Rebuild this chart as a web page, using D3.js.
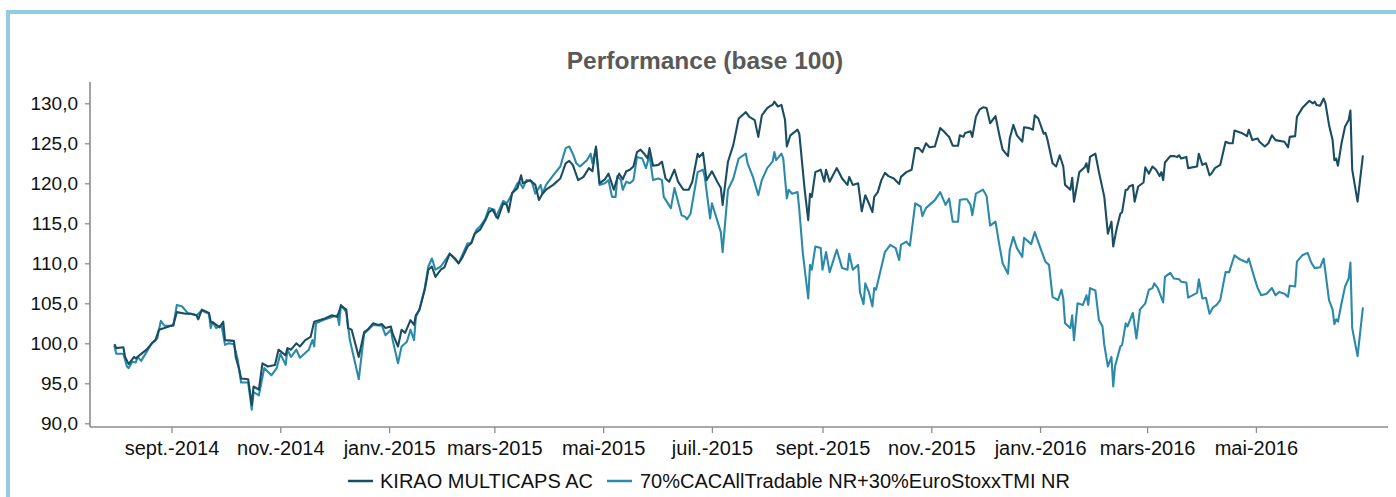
<!DOCTYPE html>
<html><head><meta charset="utf-8">
<script src="https://cdn.jsdelivr.net/npm/d3@7"></script>
<style>
html,body{margin:0;padding:0;background:#fff;}
svg{display:block;font-family:"Liberation Sans",Arial,sans-serif;}
</style></head><body>
<svg id="chart" width="1396" height="497"></svg>
<script>
const titleText = "Performance (base 100)";
const seriesNames = ["KIRAO MULTICAPS AC", "70%CACAllTradable NR+30%EuroStoxxTMI NR"];
const seriesColors = ["#1b4d62", "#2b8aaa"];
const yTicks = [90, 95, 100, 105, 110, 115, 120, 125, 130];
const xTickDates = ["2014-09-01","2014-11-01","2015-01-01","2015-03-01","2015-05-01","2015-07-01","2015-09-01","2015-11-01","2016-01-01","2016-03-01","2016-05-01"];
const xTickLabels = ["sept.-2014","nov.-2014","janv.-2015","mars-2015","mai-2015","juil.-2015","sept.-2015","nov.-2015","janv.-2016","mars-2016","mai-2016"];

const kiraoDates = ["2014-07-31","2014-08-01","2014-08-05","2014-08-06","2014-08-08","2014-08-11","2014-08-12","2014-08-14","2014-08-18","2014-08-21","2014-08-23","2014-08-25","2014-08-28","2014-09-02","2014-09-04","2014-09-09","2014-09-12","2014-09-15","2014-09-16","2014-09-18","2014-09-22","2014-09-23","2014-09-25","2014-09-28","2014-09-30","2014-10-01","2014-10-06","2014-10-07","2014-10-09","2014-10-10","2014-10-14","2014-10-16","2014-10-17","2014-10-20","2014-10-22","2014-10-25","2014-10-29","2014-10-31","2014-11-04","2014-11-05","2014-11-07","2014-11-10","2014-11-12","2014-11-15","2014-11-18","2014-11-20","2014-11-26","2014-11-30","2014-12-03","2014-12-05","2014-12-08","2014-12-09","2014-12-11","2014-12-15","2014-12-18","2014-12-20","2014-12-23","2014-12-26","2014-12-28","2014-12-30","2015-01-02","2015-01-03","2015-01-06","2015-01-08","2015-01-10","2015-01-13","2015-01-15","2015-01-16","2015-01-18","2015-01-21","2015-01-23","2015-01-25","2015-01-27","2015-01-30","2015-02-01","2015-02-04","2015-02-07","2015-02-09","2015-02-11","2015-02-14","2015-02-16","2015-02-18","2015-02-21","2015-02-24","2015-02-26","2015-02-28","2015-03-02","2015-03-03","2015-03-06","2015-03-08","2015-03-09","2015-03-11","2015-03-14","2015-03-16","2015-03-17","2015-03-19","2015-03-21","2015-03-24","2015-03-26","2015-03-28","2015-03-30","2015-04-03","2015-04-07","2015-04-10","2015-04-12","2015-04-14","2015-04-17","2015-04-20","2015-04-23","2015-04-25","2015-04-27","2015-04-29","2015-05-02","2015-05-04","2015-05-07","2015-05-09","2015-05-10","2015-05-12","2015-05-14","2015-05-16","2015-05-18","2015-05-20","2015-05-22","2015-05-24","2015-05-26","2015-05-27","2015-05-29","2015-06-01","2015-06-03","2015-06-05","2015-06-07","2015-06-10","2015-06-12","2015-06-15","2015-06-18","2015-06-20","2015-06-23","2015-06-24","2015-06-26","2015-06-28","2015-07-01","2015-07-04","2015-07-06","2015-07-07","2015-07-10","2015-07-13","2015-07-16","2015-07-19","2015-07-20","2015-07-22","2015-07-25","2015-07-27","2015-07-29","2015-08-01","2015-08-03","2015-08-04","2015-08-05","2015-08-07","2015-08-09","2015-08-11","2015-08-12","2015-08-14","2015-08-18","2015-08-19","2015-08-22","2015-08-24","2015-08-25","2015-08-26","2015-08-28","2015-08-31","2015-09-02","2015-09-03","2015-09-05","2015-09-09","2015-09-12","2015-09-15","2015-09-16","2015-09-18","2015-09-21","2015-09-23","2015-09-25","2015-09-27","2015-09-29","2015-09-30","2015-10-02","2015-10-04","2015-10-06","2015-10-08","2015-10-11","2015-10-14","2015-10-15","2015-10-18","2015-10-21","2015-10-23","2015-10-25","2015-10-27","2015-10-29","2015-10-31","2015-11-03","2015-11-06","2015-11-08","2015-11-10","2015-11-11","2015-11-13","2015-11-16","2015-11-17","2015-11-19","2015-11-20","2015-11-23","2015-11-24","2015-11-26","2015-11-28","2015-11-30","2015-12-02","2015-12-04","2015-12-06","2015-12-07","2015-12-09","2015-12-11","2015-12-14","2015-12-15","2015-12-17","2015-12-19","2015-12-22","2015-12-23","2015-12-26","2015-12-28","2015-12-29","2015-12-31","2016-01-03","2016-01-04","2016-01-05","2016-01-08","2016-01-10","2016-01-12","2016-01-14","2016-01-15","2016-01-18","2016-01-19","2016-01-20","2016-01-23","2016-01-26","2016-01-27","2016-01-28","2016-01-29","2016-02-01","2016-02-03","2016-02-06","2016-02-08","2016-02-10","2016-02-11","2016-02-13","2016-02-15","2016-02-16","2016-02-18","2016-02-19","2016-02-20","2016-02-22","2016-02-23","2016-02-25","2016-02-28","2016-02-29","2016-03-02","2016-03-04","2016-03-06","2016-03-08","2016-03-09","2016-03-10","2016-03-11","2016-03-14","2016-03-16","2016-03-18","2016-03-19","2016-03-20","2016-03-23","2016-03-24","2016-03-29","2016-03-30","2016-04-01","2016-04-03","2016-04-05","2016-04-06","2016-04-08","2016-04-11","2016-04-14","2016-04-16","2016-04-18","2016-04-19","2016-04-23","2016-04-26","2016-04-27","2016-04-29","2016-05-02","2016-05-03","2016-05-06","2016-05-08","2016-05-10","2016-05-12","2016-05-17","2016-05-19","2016-05-20","2016-05-23","2016-05-24","2016-05-27","2016-05-30","2016-05-31","2016-06-02","2016-06-03","2016-06-04","2016-06-06","2016-06-08","2016-06-09","2016-06-11","2016-06-13","2016-06-14","2016-06-15","2016-06-16","2016-06-18","2016-06-20","2016-06-22","2016-06-23","2016-06-24","2016-06-27","2016-06-30"];
const kiraoValues = [99.9,99.4,99.5,98.3,97.4,98.3,98.1,98.5,99.2,100.0,100.4,101.7,101.9,102.3,103.9,103.7,103.7,103.5,103.0,104.2,103.8,102.7,102.5,102.0,102.7,100.4,100.3,98.3,96.7,95.6,95.5,92.3,94.6,94.2,97.5,97.1,97.3,99.2,98.5,99.4,99.2,100.0,99.6,100.4,100.8,102.7,103.1,103.5,103.3,104.7,104.2,101.9,101.7,98.3,101.4,101.7,102.5,102.3,102.4,101.9,102.1,101.2,99.6,101.7,101.3,102.9,102.3,103.5,104.2,106.7,109.2,109.6,108.3,109.2,109.5,111.2,110.6,110.0,110.7,112.1,112.5,113.7,114.2,115.4,116.4,116.7,115.9,115.6,117.5,117.3,116.4,118.8,119.4,121.0,120.0,120.2,120.4,119.8,117.9,118.7,119.2,119.8,120.6,122.5,122.8,122.3,120.4,120.8,121.9,121.5,124.6,120.0,120.5,121.2,119.2,120.7,121.2,120.5,121.5,121.7,122.1,123.9,124.2,123.7,123.1,124.4,122.2,122.3,122.7,120.6,120.2,121.7,120.2,119.2,119.2,120.2,123.7,123.3,123.8,120.4,121.5,120.2,119.4,117.3,122.7,124.8,128.1,128.7,128.9,128.3,127.9,125.8,128.5,129.4,129.7,129.8,130.2,129.6,129.8,127.9,124.6,126.0,126.7,126.2,119.2,115.4,118.7,118.3,121.4,121.7,120.2,121.7,120.2,121.9,120.6,119.8,120.8,119.8,120.0,116.5,118.5,117.5,116.4,118.3,118.9,120.4,121.3,120.9,120.6,119.9,120.8,121.4,121.7,124.4,124.4,123.9,125.0,124.5,124.6,126.9,126.5,126.0,125.8,124.7,124.7,126.0,125.8,126.3,126.5,125.8,128.3,129.2,129.5,129.4,127.5,128.1,128.4,126.2,124.2,123.4,125.6,127.3,126.0,125.2,127.0,126.9,126.7,128.5,128.1,126.2,126.3,125.6,122.5,122.1,123.5,122.1,119.8,119.2,120.7,117.7,121.4,122.0,122.5,121.4,123.3,123.7,121.4,118.3,113.7,115.2,112.1,114.4,116.2,116.4,119.2,119.2,119.6,119.8,117.7,119.6,120.1,122.0,121.2,122.1,121.7,120.9,121.4,120.4,122.6,123.4,123.4,123.3,123.5,123.1,123.3,121.9,122.1,123.7,122.3,122.5,121.0,121.2,121.9,122.3,125.2,125.0,125.0,126.6,126.3,125.9,126.7,125.4,125.6,125.2,124.6,125.0,126.0,125.4,125.2,124.5,125.8,125.9,128.3,129.4,130.1,130.3,130.0,130.2,129.8,129.7,130.6,130.0,127.3,125.4,122.9,123.1,122.2,125.0,127.1,127.9,129.1,121.7,117.7,123.5];

const benchDates = ["2014-07-31","2014-08-01","2014-08-05","2014-08-07","2014-08-08","2014-08-10","2014-08-12","2014-08-13","2014-08-15","2014-08-18","2014-08-21","2014-08-24","2014-08-26","2014-08-28","2014-09-02","2014-09-04","2014-09-07","2014-09-10","2014-09-15","2014-09-18","2014-09-22","2014-09-23","2014-09-24","2014-09-26","2014-09-29","2014-10-01","2014-10-03","2014-10-06","2014-10-08","2014-10-10","2014-10-14","2014-10-16","2014-10-17","2014-10-20","2014-10-23","2014-10-27","2014-10-30","2014-11-01","2014-11-04","2014-11-05","2014-11-07","2014-11-10","2014-11-12","2014-11-17","2014-11-19","2014-11-20","2014-11-21","2014-11-25","2014-12-03","2014-12-04","2014-12-05","2014-12-08","2014-12-10","2014-12-14","2014-12-15","2014-12-18","2014-12-23","2014-12-28","2014-12-30","2015-01-02","2015-01-03","2015-01-06","2015-01-08","2015-01-11","2015-01-13","2015-01-15","2015-01-16","2015-01-18","2015-01-21","2015-01-23","2015-01-25","2015-01-27","2015-01-30","2015-02-04","2015-02-09","2015-02-14","2015-02-16","2015-02-19","2015-02-21","2015-02-24","2015-02-26","2015-03-01","2015-03-02","2015-03-06","2015-03-08","2015-03-11","2015-03-14","2015-03-15","2015-03-17","2015-03-19","2015-03-22","2015-03-24","2015-03-27","2015-03-28","2015-03-30","2015-04-03","2015-04-07","2015-04-10","2015-04-12","2015-04-14","2015-04-16","2015-04-18","2015-04-22","2015-04-24","2015-04-25","2015-04-27","2015-04-29","2015-05-02","2015-05-04","2015-05-06","2015-05-08","2015-05-09","2015-05-11","2015-05-12","2015-05-14","2015-05-16","2015-05-18","2015-05-20","2015-05-23","2015-05-25","2015-05-27","2015-05-29","2015-06-01","2015-06-03","2015-06-04","2015-06-08","2015-06-10","2015-06-14","2015-06-16","2015-06-17","2015-06-19","2015-06-23","2015-06-26","2015-06-27","2015-06-30","2015-07-01","2015-07-06","2015-07-07","2015-07-10","2015-07-13","2015-07-16","2015-07-20","2015-07-21","2015-07-24","2015-07-27","2015-07-29","2015-08-01","2015-08-04","2015-08-05","2015-08-06","2015-08-09","2015-08-10","2015-08-12","2015-08-13","2015-08-15","2015-08-18","2015-08-19","2015-08-21","2015-08-24","2015-08-25","2015-08-26","2015-08-28","2015-08-31","2015-09-01","2015-09-03","2015-09-05","2015-09-09","2015-09-12","2015-09-15","2015-09-16","2015-09-18","2015-09-21","2015-09-22","2015-09-24","2015-09-25","2015-09-27","2015-09-29","2015-09-30","2015-10-01","2015-10-06","2015-10-09","2015-10-12","2015-10-14","2015-10-15","2015-10-18","2015-10-20","2015-10-23","2015-10-26","2015-10-27","2015-10-29","2015-10-31","2015-11-03","2015-11-06","2015-11-09","2015-11-11","2015-11-13","2015-11-16","2015-11-17","2015-11-19","2015-11-21","2015-11-23","2015-11-24","2015-11-26","2015-11-30","2015-12-02","2015-12-04","2015-12-07","2015-12-09","2015-12-11","2015-12-14","2015-12-15","2015-12-17","2015-12-19","2015-12-22","2015-12-23","2015-12-27","2015-12-29","2016-01-02","2016-01-04","2016-01-06","2016-01-08","2016-01-11","2016-01-13","2016-01-14","2016-01-15","2016-01-18","2016-01-19","2016-01-20","2016-01-22","2016-01-25","2016-01-27","2016-01-28","2016-01-29","2016-02-01","2016-02-03","2016-02-05","2016-02-06","2016-02-08","2016-02-10","2016-02-11","2016-02-12","2016-02-15","2016-02-16","2016-02-18","2016-02-19","2016-02-22","2016-02-24","2016-02-26","2016-02-29","2016-03-02","2016-03-04","2016-03-05","2016-03-07","2016-03-08","2016-03-10","2016-03-11","2016-03-14","2016-03-16","2016-03-19","2016-03-20","2016-03-23","2016-03-24","2016-03-29","2016-03-30","2016-04-01","2016-04-03","2016-04-05","2016-04-07","2016-04-09","2016-04-11","2016-04-14","2016-04-16","2016-04-19","2016-04-22","2016-04-26","2016-04-27","2016-04-30","2016-05-02","2016-05-04","2016-05-07","2016-05-10","2016-05-12","2016-05-14","2016-05-17","2016-05-19","2016-05-20","2016-05-23","2016-05-24","2016-05-27","2016-05-30","2016-06-01","2016-06-03","2016-06-06","2016-06-08","2016-06-11","2016-06-13","2016-06-14","2016-06-15","2016-06-16","2016-06-18","2016-06-20","2016-06-22","2016-06-23","2016-06-24","2016-06-27","2016-06-30"];
const benchValues = [99.7,98.7,98.7,97.1,96.9,97.7,97.6,98.3,97.8,98.9,100.0,100.6,102.8,102.2,102.2,104.8,104.6,103.8,103.5,104.1,103.7,101.9,102.7,101.9,102.3,99.8,100.0,99.9,98.1,95.1,95.1,91.7,93.9,93.5,96.9,96.0,96.9,98.7,97.3,99.2,98.3,99.2,98.2,99.2,100.4,99.6,102.5,102.9,103.5,102.3,104.8,103.9,100.4,96.5,95.5,101.2,102.3,102.2,101.0,101.7,100.4,97.5,99.6,100.2,101.7,100.4,103.3,104.2,106.9,109.6,110.6,109.2,109.6,111.2,110.0,112.5,112.5,114.2,114.6,115.6,116.9,116.7,115.8,117.8,117.5,118.7,120.0,120.2,119.4,120.4,120.2,118.7,119.8,118.7,119.8,121.0,122.1,124.4,124.6,123.7,122.5,122.1,122.9,123.7,122.5,124.4,119.8,120.0,120.4,118.3,118.3,120.9,120.4,119.2,120.2,120.0,120.4,123.3,123.1,121.9,123.5,120.4,120.6,120.4,118.3,116.9,119.4,116.0,115.8,115.5,116.2,121.4,121.7,120.8,115.6,117.5,113.9,111.4,119.2,120.6,123.1,123.7,122.5,120.8,118.5,120.4,121.9,122.7,123.9,122.9,123.7,123.1,118.1,119.2,118.7,118.9,116.7,111.2,105.6,109.8,109.2,112.1,111.9,109.2,111.4,108.9,111.7,109.4,109.2,111.2,109.2,109.8,106.4,104.9,107.5,106.4,104.6,106.9,106.7,111.4,112.3,111.9,110.4,112.3,112.7,112.2,117.5,117.1,115.9,116.9,117.3,117.9,118.9,117.3,118.1,115.2,115.2,117.9,118.0,118.0,117.3,116.0,118.7,119.2,118.4,114.7,115.2,112.5,110.0,108.7,111.7,113.3,111.9,110.8,113.2,112.4,113.9,111.4,110.2,109.8,105.8,105.4,106.7,105.6,102.5,101.9,103.5,100.4,105.0,104.8,106.0,104.8,106.9,106.6,102.9,102.1,99.8,97.1,98.3,94.6,97.1,99.6,99.8,102.5,102.1,103.8,100.6,104.2,105.0,106.7,106.9,107.5,106.9,106.3,105.1,108.3,108.8,108.1,108.0,107.7,107.6,105.7,106.3,108.0,105.6,105.7,103.7,104.5,104.8,105.4,108.9,108.9,111.0,110.5,110.1,110.6,108.3,106.9,106.0,106.2,106.9,106.0,106.4,106.2,105.8,107.2,107.1,110.2,111.0,111.3,110.1,109.4,109.5,110.6,105.4,104.2,102.4,103.0,102.7,105.0,107.1,108.1,110.1,101.9,98.4,104.5];

const parse = d3.utcParse("%Y-%m-%d");
const svg = d3.select("#chart");

// frame
svg.append("line").attr("x1",6).attr("x2",1396).attr("y1",12).attr("y2",12).attr("stroke","#92cddf").attr("stroke-width",4);
svg.append("line").attr("x1",8).attr("x2",8).attr("y1",10).attr("y2",497).attr("stroke","#92cddf").attr("stroke-width",4);

// scales
const x = d3.scaleUtc().domain([parse(xTickDates[0]), parse(xTickDates[xTickDates.length-1])]).range([171.5, 1255.9]);
const y = d3.scaleLinear().domain([90, 130]).range([423.3, 103.3]);
const plotLeft = 90, plotRight = 1388, axisY = 427, axisTop = 82;

// title
svg.append("text").attr("x", 705).attr("y", 69).attr("text-anchor","middle")
  .attr("font-size", 24.5).attr("font-weight","bold").attr("fill","#595959").text(titleText);

// y axis
const fmt = v => d3.format(".1f")(v).replace(".", ",");
const yAxis = svg.append("g").attr("transform", `translate(${plotLeft},0)`)
  .call(d3.axisLeft(y).tickValues(yTicks).tickFormat(fmt).tickSize(5).tickPadding(7));
yAxis.select(".domain").remove();
yAxis.selectAll(".tick line").attr("stroke","#8c8c8c").attr("stroke-width",1.3);
yAxis.selectAll("text").attr("font-size",19).attr("fill","#111").attr("font-family","'Liberation Sans',Arial,sans-serif");
svg.append("line").attr("x1",plotLeft).attr("x2",plotLeft).attr("y1",axisTop).attr("y2",axisY)
  .attr("stroke","#8c8c8c").attr("stroke-width",1.6);

// x axis
const xAxis = svg.append("g").attr("transform", `translate(0,${axisY})`)
  .call(d3.axisBottom(x).tickValues(xTickDates.map(parse)).tickFormat((d,i)=>xTickLabels[i]).tickSize(6).tickPadding(8));
xAxis.select(".domain").remove();
xAxis.selectAll(".tick line").attr("stroke","#8c8c8c").attr("stroke-width",1.3);
xAxis.selectAll("text").attr("font-size",20).attr("fill","#111").attr("font-family","'Liberation Sans',Arial,sans-serif");
svg.append("line").attr("x1",plotLeft).attr("x2",plotRight).attr("y1",axisY).attr("y2",axisY)
  .attr("stroke","#8c8c8c").attr("stroke-width",1.6);

// lines
const series = [
  {name: seriesNames[0], color: seriesColors[0], dates: kiraoDates, values: kiraoValues},
  {name: seriesNames[1], color: seriesColors[1], dates: benchDates, values: benchValues}
];
const line = d3.line().x(d=>x(d[0])).y(d=>y(d[1]));
[series[1], series[0]].forEach(s => {
  const pts = s.dates.map((d,i)=>[parse(d), s.values[i]]);
  svg.append("path").datum(pts).attr("d", line).attr("fill","none")
    .attr("stroke", s.color).attr("stroke-width", 2.1).attr("stroke-linejoin","round");
});

// legend
const legend = svg.append("g").attr("font-size",20).attr("fill","#111");
const legendPos = [{lx:348, tx:380}, {lx:607, tx:640}];
series.forEach((s,i)=>{
  legend.append("line").attr("x1",legendPos[i].lx).attr("x2",legendPos[i].lx+25).attr("y1",481).attr("y2",481)
    .attr("stroke", s.color).attr("stroke-width",2.5);
  legend.append("text").attr("x",legendPos[i].tx).attr("y",488).text(s.name);
});
</script>
</body></html>
